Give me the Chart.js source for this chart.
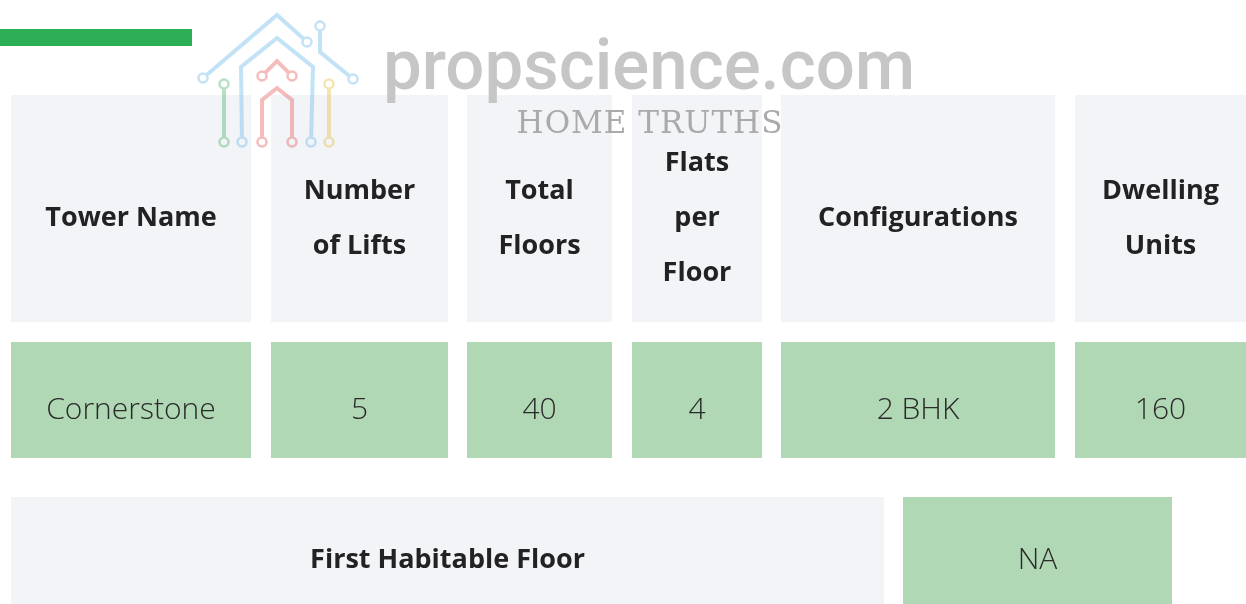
<!DOCTYPE html>
<html>
<head>
<meta charset="utf-8">
<script src="https://cdn.jsdelivr.net/npm/chart.js@4.4.0/dist/chart.umd.min.js"></script>
<style>
  html, body { margin: 0; padding: 0; background: #fff; }
  #wrap { width: 1246px; height: 604px; }
</style>
</head>
<body>
<div id="wrap"><canvas id="tbl" width="1246" height="604"></canvas></div>
<script>
// table contents
const headers = [['Tower Name'], ['Number', 'of Lifts'], ['Total', 'Floors'], ['Flats', 'per', 'Floor'], ['Configurations'], ['Dwelling', 'Units']];
const values = ['Cornerstone', '5', '40', '4', '2 BHK', '160'];
const extraHeader = 'First Habitable Floor';
const extraValue = 'NA';

// layout, in scale units (1 unit = 1 px of the picture)
const colLeft = [11, 271, 467, 632, 781, 1075];
const colRight = [251, 448, 612, 762, 1055, 1246];
const headerRow = [95, 322];
const valueRow = [342, 458];
const extraRow = [497, 604];
const extraCols = [[11, 884], [903, 1172]];

const HEAD_BG = '#f2f4f8';
const CELL_BG = '#b0d8b5';
const HEAD_FONT = '700 27px "Open Sans", sans-serif';
const BODY_FONT = '300 30px "Open Sans", sans-serif';

// 表のセルと文字を描く
const tablePlugin = {
  id: 'tableCells',
  beforeDatasetsDraw(chart) {
    const { ctx, scales: { x, y } } = chart;
    const rect = (x0, x1, y0, y1, color) => {
      const px0 = x.getPixelForValue(x0), px1 = x.getPixelForValue(x1);
      const py0 = y.getPixelForValue(y0), py1 = y.getPixelForValue(y1);
      ctx.fillStyle = color;
      ctx.fillRect(px0, py0, px1 - px0, py1 - py0);
    };
    const text = (lines, x0, x1, y0, y1, font, color) => {
      const lh = 55;
      const cx = x.getPixelForValue((x0 + x1) / 2);
      const cy = y.getPixelForValue((y0 + y1) / 2 + 10);
      ctx.font = font;
      ctx.fillStyle = color;
      ctx.textAlign = 'center';
      ctx.textBaseline = 'middle';
      lines.forEach((l, i) => {
        ctx.fillText(l, cx, cy + (i - (lines.length - 1) / 2) * lh);
      });
    };

    ctx.save();
    // green accent bar
    rect(0, 192, 29, 46, '#2cae55');

    headers.forEach((h, i) => {
      rect(colLeft[i], colRight[i], headerRow[0], headerRow[1], HEAD_BG);
      text(h, colLeft[i], colRight[i], headerRow[0], headerRow[1], HEAD_FONT, '#222');
    });
    values.forEach((v, i) => {
      rect(colLeft[i], colRight[i], valueRow[0], valueRow[1], CELL_BG);
      text([v], colLeft[i], colRight[i], valueRow[0], valueRow[1], BODY_FONT, '#2a2a2a');
    });
    rect(extraCols[0][0], extraCols[0][1], extraRow[0], extraRow[1], HEAD_BG);
    rect(extraCols[1][0], extraCols[1][1], extraRow[0], extraRow[1], CELL_BG);
    text([extraHeader], extraCols[0][0], extraCols[0][1], extraRow[0], extraRow[1], HEAD_FONT, '#222');
    text([extraValue], extraCols[1][0], extraCols[1][1], extraRow[0], extraRow[1], BODY_FONT, '#2a2a2a');
    ctx.restore();
  },
  afterDraw(chart) {
    const { ctx, scales: { x, y } } = chart;
    const P = (a, b) => [x.getPixelForValue(a), y.getPixelForValue(b)];
    ctx.save();

    // logo lines with ring ends
    const r = 5.5;
    const logo = [
      { c: 'rgba(120,190,232,0.45)', pts: [[203, 78], [277, 15], [307, 42]] },
      { c: 'rgba(120,190,232,0.45)', pts: [[320, 26], [320, 52], [353, 79]] },
      { c: 'rgba(120,190,232,0.45)', pts: [[242, 142], [241, 67], [277, 38], [313, 67], [311, 142]] },
      { c: 'rgba(232,95,95,0.42)', pts: [[262, 76], [277, 61], [292, 76]] },
      { c: 'rgba(232,95,95,0.42)', pts: [[262, 142], [262, 100], [277, 88], [292, 100], [292, 142]] },
      { c: 'rgba(95,185,115,0.45)', pts: [[224, 84], [224, 142]] },
      { c: 'rgba(228,196,80,0.45)', pts: [[329, 84], [329, 142]] }
    ];
    logo.forEach(seg => {
      const pts = seg.pts.map(p => P(p[0], p[1]));
      const shorten = (a, b) => {
        const dx = b[0] - a[0], dy = b[1] - a[1], d = Math.hypot(dx, dy);
        return [a[0] + dx / d * r, a[1] + dy / d * r];
      };
      const first = shorten(pts[0], pts[1]);
      const last = shorten(pts[pts.length - 1], pts[pts.length - 2]);
      ctx.strokeStyle = seg.c;
      ctx.lineWidth = 4;
      ctx.lineJoin = 'miter';
      ctx.beginPath();
      ctx.moveTo(first[0], first[1]);
      for (let i = 1; i < pts.length - 1; i++) ctx.lineTo(pts[i][0], pts[i][1]);
      ctx.lineTo(last[0], last[1]);
      ctx.stroke();
      ctx.lineWidth = 2.5;
      [pts[0], pts[pts.length - 1]].forEach(p => {
        ctx.beginPath();
        ctx.arc(p[0], p[1], r - 1, 0, Math.PI * 2);
        ctx.stroke();
      });
    });

    // site name
    ctx.fillStyle = '#c6c6c6';
    ctx.textAlign = 'left';
    ctx.textBaseline = 'alphabetic';
    ctx.font = '500 70px Roboto, sans-serif';
    const w = ctx.measureText('propscience.com').width;
    const sx = 532 / w;
    const p0 = P(383, 89);
    ctx.save();
    ctx.translate(p0[0], p0[1]);
    ctx.scale(sx, 1);
    ctx.fillText('propscience.com', 0, 0);
    ctx.restore();

    ctx.fillStyle = '#aaaaaa';
    ctx.font = '300 31px "DejaVu Serif", serif';
    ctx.letterSpacing = '1px';
    ctx.textAlign = 'center';
    const p1 = P(650, 133);
    ctx.fillText('HOME TRUTHS', p1[0], p1[1]);
    ctx.restore();
  }
};

new Chart(document.getElementById('tbl'), {
  type: 'scatter',
  data: { datasets: [{ data: [] }] },
  options: {
    responsive: false,
    animation: false,
    layout: { padding: 0 },
    plugins: { legend: { display: false }, tooltip: { enabled: false } },
    scales: {
      x: { type: 'linear', min: 0, max: 1246, display: false },
      y: { type: 'linear', min: 0, max: 604, reverse: true, display: false }
    }
  },
  plugins: [tablePlugin]
});
</script>
</body>
</html>
